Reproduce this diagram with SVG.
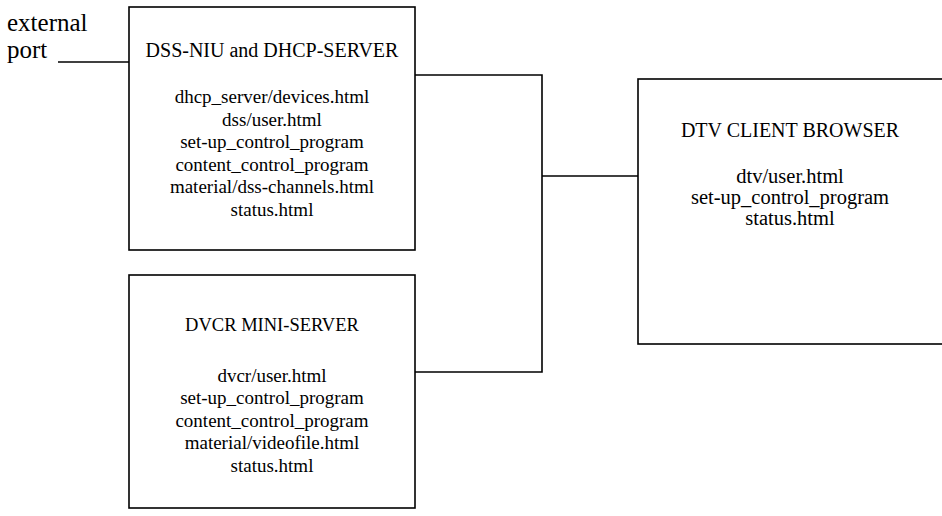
<svg xmlns="http://www.w3.org/2000/svg" width="942" height="516" viewBox="0 0 942 516" font-family="Times New Roman, Liberation Serif, serif">
  <rect width="942" height="516" fill="#fff"/>

  <!-- wiring between the external port and the three boxes -->
  <g id="connectors" fill="none" stroke="#000" stroke-width="1.6">
    <path d="M58 62 H129"/>
    <path d="M415 75 H542 V372 H415"/>
    <path d="M542 176 H638"/>
  </g>

  <g id="external-port">
    <text x="7" y="31" font-family="Times New Roman, Liberation Serif, serif" font-size="25" fill="#000">external</text>
    <text x="7" y="58" font-family="Times New Roman, Liberation Serif, serif" font-size="25" fill="#000">port</text>
  </g>

  <g id="dss-niu">
    <rect x="129" y="7" width="286" height="243" fill="#fff" stroke="#000" stroke-width="1.6"/>
    <text x="272" y="57" font-family="Times New Roman, Liberation Serif, serif" font-size="20" text-anchor="middle" fill="#000">DSS-NIU and DHCP-SERVER</text>
    <text x="272" y="103" font-family="Times New Roman, Liberation Serif, serif" font-size="19" text-anchor="middle" fill="#000">dhcp_server/devices.html</text>
    <text x="272" y="126" font-family="Times New Roman, Liberation Serif, serif" font-size="19" text-anchor="middle" fill="#000">dss/user.html</text>
    <text x="272" y="148" font-family="Times New Roman, Liberation Serif, serif" font-size="19" text-anchor="middle" fill="#000">set-up_control_program</text>
    <text x="272" y="171" font-family="Times New Roman, Liberation Serif, serif" font-size="19" text-anchor="middle" fill="#000">content_control_program</text>
    <text x="272" y="193" font-family="Times New Roman, Liberation Serif, serif" font-size="19" text-anchor="middle" fill="#000">material/dss-channels.html</text>
    <text x="272" y="216" font-family="Times New Roman, Liberation Serif, serif" font-size="19" text-anchor="middle" fill="#000">status.html</text>
  </g>

  <g id="dvcr">
    <rect x="129" y="275" width="286" height="233" fill="#fff" stroke="#000" stroke-width="1.6"/>
    <text x="272" y="331" font-family="Times New Roman, Liberation Serif, serif" font-size="18.5" text-anchor="middle" fill="#000">DVCR MINI-SERVER</text>
    <text x="272" y="382" font-family="Times New Roman, Liberation Serif, serif" font-size="19" text-anchor="middle" fill="#000">dvcr/user.html</text>
    <text x="272" y="404" font-family="Times New Roman, Liberation Serif, serif" font-size="19" text-anchor="middle" fill="#000">set-up_control_program</text>
    <text x="272" y="427" font-family="Times New Roman, Liberation Serif, serif" font-size="19" text-anchor="middle" fill="#000">content_control_program</text>
    <text x="272" y="449" font-family="Times New Roman, Liberation Serif, serif" font-size="19" text-anchor="middle" fill="#000">material/videofile.html</text>
    <text x="272" y="472" font-family="Times New Roman, Liberation Serif, serif" font-size="19" text-anchor="middle" fill="#000">status.html</text>
  </g>

  <g id="dtv">
    <rect x="638" y="79" width="310" height="265" fill="#fff" stroke="#000" stroke-width="1.6"/>
    <text x="790" y="137" font-family="Times New Roman, Liberation Serif, serif" font-size="20" text-anchor="middle" fill="#000">DTV CLIENT BROWSER</text>
    <text x="790" y="183" font-family="Times New Roman, Liberation Serif, serif" font-size="20.5" text-anchor="middle" fill="#000">dtv/user.html</text>
    <text x="790" y="204" font-family="Times New Roman, Liberation Serif, serif" font-size="20.5" text-anchor="middle" fill="#000">set-up_control_program</text>
    <text x="790" y="225" font-family="Times New Roman, Liberation Serif, serif" font-size="20.5" text-anchor="middle" fill="#000">status.html</text>
  </g>
</svg>
